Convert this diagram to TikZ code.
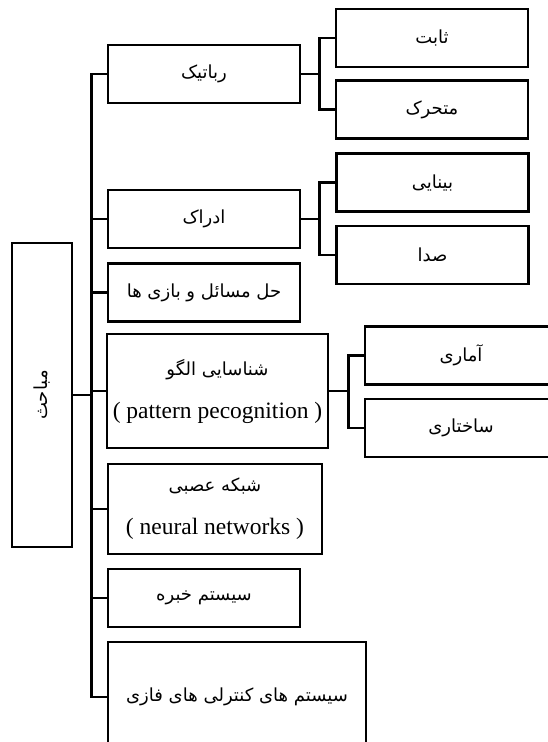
\documentclass[tikz,border=0pt]{standalone}
\usepackage{fontspec}
\setmainfont{Liberation Serif}
\newfontfamily\fa[Script=Arabic]{DejaVu Sans}
\TeXXeTstate=1
\newcommand{\fatext}[1]{{\fa\beginR #1\endR}}
\usetikzlibrary{positioning}

\tikzset{
  topic/.style={draw, line width=2.6pt, inner sep=0pt, minimum height=58pt,
    minimum width=192pt, align=center, font=\fontsize{18}{21}\selectfont},
  link/.style={line width=2.6pt}
}

\begin{document}
\begin{tikzpicture}[x=1pt, y=-1pt]
  \useasboundingbox (0,0) rectangle (548,742);
  \clip (0,0) rectangle (548,742);

  \node[topic, minimum width=60pt, minimum height=304pt] (root) at (42,395)
    {\rotatebox{90}{\fatext{مباحث}}};

  \node[topic] (robotic) at (204,74) {\fatext{رباتیک}};
  \node[topic] (edrak) at (204,219) {\fatext{ادراک}};
  \node[topic] (hal) at (204,292.5) {\fatext{حل مسائل و بازی ها}};
  \node[topic, minimum width=221pt, minimum height=114pt] (olgu) at (217.5,391)
    {\fatext{شناسایی الگو}\\[22pt]{\fontsize{23.5}{24}\selectfont ( pattern pecognition )}};
  \node[topic, minimum width=214pt, minimum height=90pt] (asabi) at (215,509)
    {\fatext{شبکه عصبی}\\[22pt]{\fontsize{23.5}{24}\selectfont ( neural networks )}};
  \node[topic] (khebre) at (204,598) {\fatext{سیستم خبره}};
  \node[topic, minimum width=258pt, minimum height=110pt] (fazi) at (237,697)
    {\fatext{سیستم های کنترلی های فازی}};

  \node[topic] (sabet) at (432,38) {\fatext{ثابت}};
  \node[topic] (motaharek) at (432,109.5) {\fatext{متحرک}};
  \node[topic] (binayi) at (432.5,182.5) {\fatext{بینایی}};
  \node[topic] (seda) at (432.5,255) {\fatext{صدا}};
  \node[topic] (amari) at (461,355.5) {\fatext{آماری}};
  \node[topic] (sakhtari) at (461,428) {\fatext{ساختاری}};

  \foreach \kid in {robotic, edrak, hal, olgu, asabi, khebre, fazi}
    \draw[link] (root.east) -- ++(18,0) |- (\kid.west);

  \foreach \up/\kid in {robotic/sabet, robotic/motaharek, edrak/binayi, edrak/seda}
    \draw[link] (\up.east) -- ++(18,0) |- (\kid.west);
  \foreach \kid in {amari, sakhtari}
    \draw[link] (olgu.east) -- ++(19,0) |- (\kid.west);
\end{tikzpicture}
\end{document}
